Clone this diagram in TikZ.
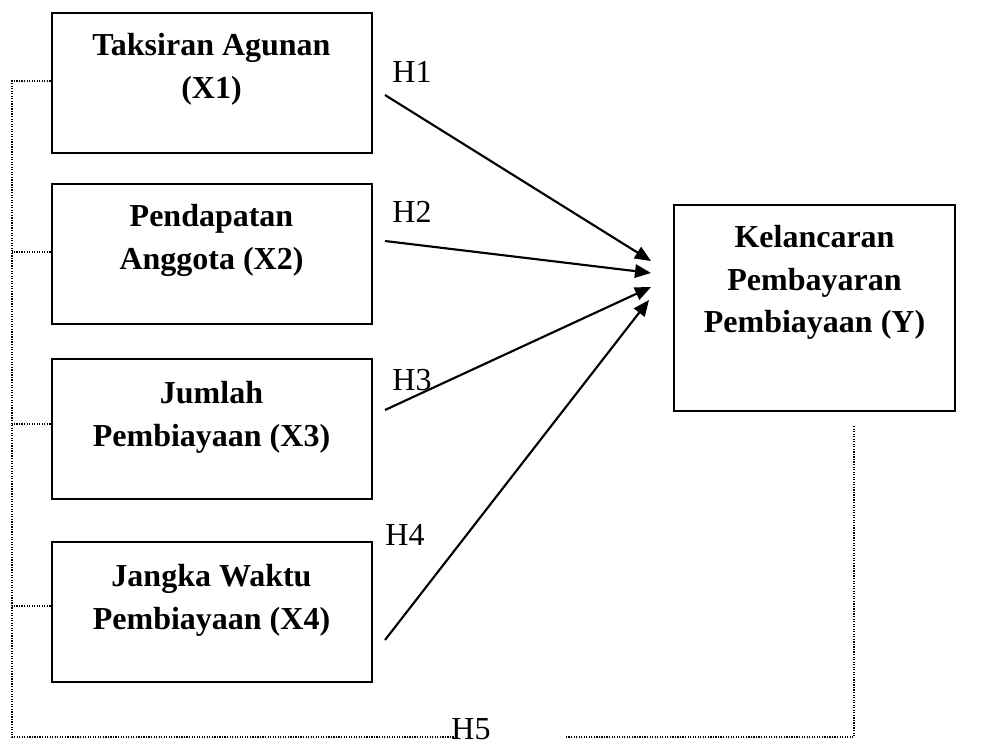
\documentclass[tikz,border=0pt]{standalone}
\usepackage{fontspec}
\setmainfont{Liberation Serif}
\usetikzlibrary{arrows.meta}
\begin{document}
\begin{tikzpicture}[x=0.75pt,y=0.75pt,yscale=-1,xscale=1,
  box/.style={draw,line width=1.5pt,minimum width=240pt,minimum height=105pt,inner sep=0pt},
  boxtext/.style={anchor=north,align=center,inner sep=0pt,font=\fontsize{24}{32}\selectfont\bfseries},
  hyp/.style={inner sep=0pt,font=\fontsize{24}{28}\selectfont},
  arr/.style={line width=1.6pt,-{Triangle[length=12pt,width=10pt]}},
  link/.style={densely dotted,line width=0.9pt}]
\useasboundingbox (0,0) rectangle (987,747);

%Boxes
\node[box] (x1) at (211.5,83) {};
\node[box] (x2) at (211.5,254) {};
\node[box] (x3) at (211.5,428.5) {};
\node[box] (x4) at (211.5,612) {};
\node[box,minimum width=210.75pt,minimum height=154.5pt] (y) at (814.5,308) {};

% Text Node
\node[boxtext] (t1) at (211.5,33) {Taksiran Agunan\\(X1)};
% Text Node
\node[boxtext] (t2) at (211.5,204) {Pendapatan\\Anggota (X2)};
% Text Node
\node[boxtext] (t3) at (211.5,381) {Jumlah\\Pembiayaan (X3)};
% Text Node
\node[boxtext] (t4) at (211.5,564) {Jangka Waktu\\Pembiayaan (X4)};
% Text Node
\node[boxtext] (ty) at (814.5,225) {Kelancaran\\Pembayaran\\Pembiayaan (Y)};

%Hypotheses
\draw[arr] ([shift={(12.5,12)}]x1.east) -- ([shift={(-22,-47)}]y.west);
\draw[arr] ([shift={(12.5,-13)}]x2.east) -- ([shift={(-22,-35)}]y.west);
\draw[arr] ([shift={(12.5,-18.5)}]x3.east) -- ([shift={(-22,-21)}]y.west);
\draw[arr] ([shift={(12.5,28)}]x4.east) -- ([shift={(-24,-8)}]y.west);

\node[hyp] (h1) at (412,72) {H1};
\node[hyp] (h2) at (412,212) {H2};
\node[hyp] (h3) at (412,380) {H3};
\node[hyp] (h4) at (405,535) {H4};

%Simultaneous link
\draw[link] ([shift={(0,-2)}]x1.west) -- (12,81) -- (12,737) -- (455,737);
\draw[link] ([shift={(0,-2)}]x2.west) -- (12,252);
\draw[link] ([shift={(0,-4.5)}]x3.west) -- (12,424);
\draw[link] ([shift={(0,-6)}]x4.west) -- (12,606);
\draw[link] ([shift={(39.5,14)}]y.south) -- (854,737) -- (566,737);
\node[hyp] (h5) at (471,729) {H5};

\end{tikzpicture}
\end{document}
